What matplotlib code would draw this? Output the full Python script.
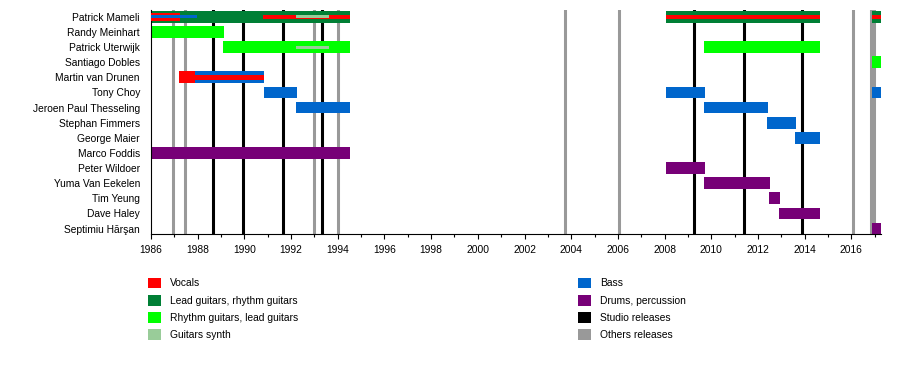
import matplotlib
matplotlib.use("Agg")
import matplotlib.pyplot as plt
from matplotlib.patches import Patch

plt.rcParams['font.family'] = ['Liberation Sans', 'DejaVu Sans']

END = 2017.27

members = ["Patrick Mameli", "Randy Meinhart", "Patrick Uterwijk", "Santiago Dobles",
           "Martin van Drunen", "Tony Choy", "Jeroen Paul Thesseling", "Stephan Fimmers",
           "George Maier", "Marco Foddis", "Peter Wildoer", "Yuma Van Eekelen",
           "Tim Yeung", "Dave Haley", "Septimiu Hărşan"]

# full-height bars (main role)
lead_main = [("Patrick Mameli", 1986.0, 1994.52), ("Patrick Mameli", 2008.06, 2014.65),
             ("Patrick Mameli", 2016.88, END)]
rhythm_main = [("Randy Meinhart", 1986.0, 1989.13), ("Patrick Uterwijk", 1989.08, 1994.52),
               ("Patrick Uterwijk", 2009.68, 2014.65), ("Santiago Dobles", 2016.88, END)]
vocals_main = [("Martin van Drunen", 1987.2, 1987.9)]
bass_main = [("Martin van Drunen", 1987.9, 1990.84), ("Tony Choy", 1990.84, 1992.25),
             ("Tony Choy", 2008.06, 2009.72), ("Tony Choy", 2016.88, END),
             ("Jeroen Paul Thesseling", 1992.21, 1994.52), ("Jeroen Paul Thesseling", 2009.68, 2012.42),
             ("Stephan Fimmers", 2012.38, 2013.62), ("George Maier", 2013.58, 2014.65)]
drums_main = [("Marco Foddis", 1986.0, 1994.52), ("Peter Wildoer", 2008.06, 2009.72),
              ("Yuma Van Eekelen", 2009.68, 2012.5), ("Tim Yeung", 2012.47, 2012.94),
              ("Dave Haley", 2012.9, 2014.65), ("Septimiu Hărşan", 2016.88, END)]

# secondary roles (thinner stripes)
vocals_wide = [("Patrick Mameli", 1986.0, 1987.24)]
vocals_strip = [("Patrick Mameli", 1990.81, 1994.52), ("Patrick Mameli", 2008.06, 2014.65),
                ("Patrick Mameli", 2016.88, END), ("Martin van Drunen", 1987.9, 1990.84)]
bass_strip = [("Patrick Mameli", 1986.0, 1987.98)]
synth_strip = [("Patrick Mameli", 1992.21, 1993.62), ("Patrick Uterwijk", 1992.21, 1993.62)]

studio_releases = [1988.67, 1989.95, 1991.67, 1993.34, 2009.27, 2011.41, 2013.89]
other_releases = [1986.96, 1987.47, 1992.99, 1994.0, 2003.74, 2006.06, 2016.05, 2016.85, 2016.95]

c_vocals = "#FF0000"
c_lead = "#007F35"
c_rhythm = "#00FF00"
c_synth = "#99CC99"
c_bass = "#0066CC"
c_drums = "#770077"
c_studio = "#000000"
c_other = "#999999"

fig = plt.figure(figsize=(9, 3.84), dpi=100)
ax = fig.add_axes([151/900, 1-234/384, 730/900, 224/384])

for x in other_releases:
    ax.axvline(x, color=c_other, lw=2.2, zorder=1)
for x in studio_releases:
    ax.axvline(x, color=c_studio, lw=2.2, zorder=1)

row = {m: i for i, m in enumerate(members)}


def bars(items, color, h, z):
    ax.barh([row[m] for m, s, e in items], [e - s for m, s, e in items],
            left=[s for m, s, e in items], height=h, color=color, lw=0, zorder=z)


bars(lead_main, c_lead, 0.77, 2)
bars(rhythm_main, c_rhythm, 0.77, 2)
bars(vocals_main, c_vocals, 0.77, 2)
bars(bass_main, c_bass, 0.77, 2)
bars(drums_main, c_drums, 0.77, 2)
bars(vocals_wide, c_vocals, 0.52, 3)
bars(vocals_strip, c_vocals, 0.3, 3)
bars(bass_strip, c_bass, 0.22, 4)
bars(synth_strip, c_synth, 0.2, 4)

ax.set_xlim(1986, END)
ax.set_ylim(14.36, -0.45)
ax.set_yticks(range(len(members)))
ax.set_yticklabels(members)
ax.set_xticks(range(1986, 2017, 2))
ax.set_xticks(range(1986, 2018), minor=True)
ax.tick_params(axis='y', length=0, pad=8, labelsize=7.4)
ax.tick_params(axis='x', which='major', length=3.6, width=0.8, pad=4, labelsize=7.4)
ax.tick_params(axis='x', which='minor', length=1.8, width=0.8)
for s in ['top', 'right']:
    ax.spines[s].set_visible(False)
for s in ['left', 'bottom']:
    ax.spines[s].set_linewidth(0.8)

leg1 = [("Vocals", c_vocals), ("Lead guitars, rhythm guitars", c_lead),
        ("Rhythm guitars, lead guitars", c_rhythm), ("Guitars synth", c_synth)]
leg2 = [("Bass", c_bass), ("Drums, percussion", c_drums),
        ("Studio releases", c_studio), ("Others releases", c_other)]

for items, x0 in [(leg1, 148), (leg2, 578)]:
    handles = [Patch(facecolor=c, edgecolor='none', label=l) for l, c in items]
    fig.legend(handles=handles, loc='upper left', bbox_to_anchor=(x0/900, 1-277.5/384),
               frameon=False, fontsize=7.4, handlelength=1.27, handleheight=1.24,
               handletextpad=0.85, labelspacing=0.62, borderpad=0, borderaxespad=0)

fig.savefig("out.png", dpi=100)
